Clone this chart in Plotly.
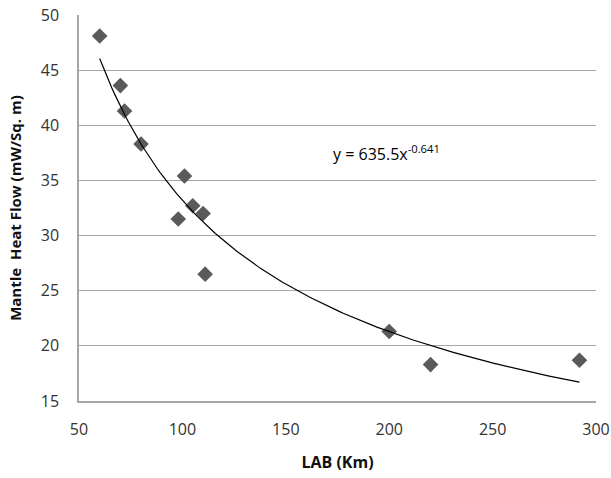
import numpy as np
import plotly.graph_objects as go

lab_km = [60, 70, 72, 80, 101, 98, 105, 110, 111, 200, 220, 292]
heat_flow = [48.1, 43.6, 41.3, 38.3, 35.4, 31.5, 32.7, 32.0, 26.5, 21.3, 18.3, 18.7]

coef_a = 635.5
coef_b = -0.641
x_ticks = [50, 100, 150, 200, 250, 300]
y_ticks = [15, 20, 25, 30, 35, 40, 45, 50]

xf = np.linspace(min(lab_km), max(lab_km), 200)
yf = coef_a * xf ** coef_b

font_family = "Open Sans, Liberation Sans, sans-serif"

fig = go.Figure()
fig.add_trace(go.Scatter(
    x=lab_km, y=heat_flow, mode="markers",
    marker=dict(symbol="diamond", size=12, color="#5a5a5a"),
    showlegend=False))
fig.add_trace(go.Scatter(
    x=xf, y=yf, mode="lines",
    line=dict(color="#000000", width=1.2),
    showlegend=False))

fig.add_annotation(x=198.5, y=37.5, xref="x", yref="y",
                   text="y = 635.5x<sup>-0.641</sup>", showarrow=False,
                   font=dict(family=font_family, size=16, color="#000000"))

fig.update_layout(
    width=611, height=478,
    margin=dict(l=79, r=15, t=15, b=77),
    paper_bgcolor="white", plot_bgcolor="white",
    font=dict(family=font_family, color="#333333"),
    xaxis=dict(range=[50, 300], tickvals=x_ticks, showgrid=False,
               showline=True, linecolor="#a6a6a6", linewidth=1.5,
               ticks="", tickfont=dict(size=16, color="#333333"),
               ticklabelstandoff=13, zeroline=False, automargin=False,
               title=dict(text="<b>LAB (Km)</b>", font=dict(size=16, color="#111111"),
                          standoff=18)),
    yaxis=dict(range=[15, 50], tickvals=y_ticks, showgrid=True,
               gridcolor="#a6a6a6", gridwidth=1.2,
               showline=True, linecolor="#a6a6a6", linewidth=1.5,
               ticks="", tickfont=dict(size=16, color="#333333"),
               ticklabelstandoff=15, zeroline=False, automargin=False,
               title=dict(text="<b>Mantle  Heat Flow (mW/Sq. m)</b>",
                          font=dict(size=15, color="#111111"), standoff=16)),
)

fig.write_html("out.html")
